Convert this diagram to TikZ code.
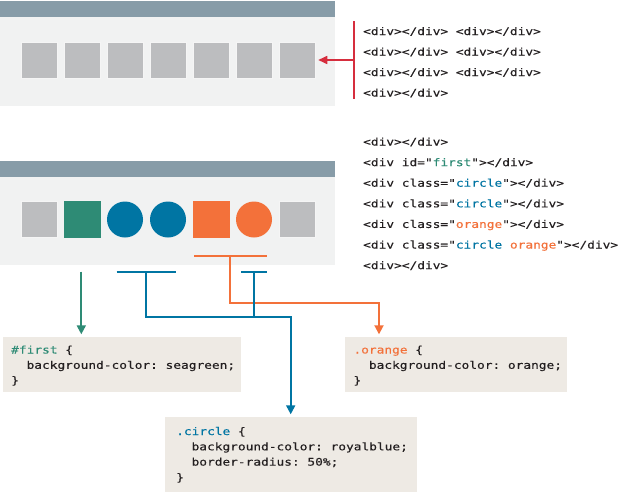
\documentclass[tikz,border=0pt]{standalone}
\usepackage{fontspec}
\usetikzlibrary{arrows.meta}
\newfontfamily\codefont[FakeStretch=1.222,FakeBold=0.3]{DejaVu Sans Mono}
\newcommand\codesize{\fontsize{10.5}{12}\selectfont\frenchspacing\fontdimen2\font=7.72pt\fontdimen3\font=0pt\fontdimen4\font=0pt\fontdimen7\font=0pt}
\definecolor{barc}{HTML}{879CA8}
\definecolor{bodyc}{HTML}{F1F2F2}
\definecolor{sqc}{HTML}{BCBDBF}
\definecolor{greenc}{HTML}{2E8B75}
\definecolor{bluec}{HTML}{0075A3}
\definecolor{orangec}{HTML}{F3713A}
\definecolor{boxc}{HTML}{EEEAE4}
\definecolor{inkc}{HTML}{231F20}
\definecolor{redc}{HTML}{D62E3E}
\begin{document}
\begin{tikzpicture}[x=1pt,y=-1pt,
  sq/.style={rectangle,minimum size=36pt,inner sep=0pt,draw=white!85!sqc,line width=0.5pt,fill=sqc},
  circ/.style={circle,minimum size=36pt,inner sep=0pt,draw=none,fill=#1},
  codeline/.style={anchor=base west,inner sep=0pt,font=\codefont\codesize,text=inkc},
  codebox/.style={rectangle,fill=boxc,draw=none,inner sep=0pt,anchor=north west},
  conn/.style={line width=1.8pt},
  tip/.style={-{Triangle[width=9pt,length=9pt]}}
]
\fill[white] (0,0) rectangle (626,491);
\useasboundingbox (0,0) rectangle (626,491);

% top browser
\fill[bodyc] (0,17) rectangle (335,106);
\fill[barc] (0,1) rectangle (335,17);
\foreach \k in {1,...,7}{
  \node[sq] (s\k) at ({39+43*(\k-1)},60) {};
}

% bottom browser
\fill[bodyc] (0,176.7) rectangle (335,265);
\fill[barc] (0,160.7) rectangle (335,176.7);
\node[sq] (t1) at (39,219.5) {};
\node[sq,fill=greenc,draw=greenc] (t2) at (82,219.5) {};
\node[circ=bluec] (t3) at (125,219.5) {};
\node[circ=bluec] (t4) at (168,219.5) {};
\node[sq,fill=orangec,draw=orangec] (t5) at (211,219.5) {};
\node[circ=orangec] (t6) at (254,219.5) {};
\node[sq] (t7) at (297,219.5) {};

% top code
\node[codeline] (a1) at (363,35) {<div></div> <div></div>};
\node[codeline] (a2) at (363,55.5) {<div></div> <div></div>};
\node[codeline] (a3) at (363,76) {<div></div> <div></div>};
\node[codeline] (a4) at (363,96.5) {<div></div>};

% red connector
\coordinate (rtop) at (354,21);
\coordinate (rbot) at (354,99);
\coordinate (rmid) at (354,60);
\draw[redc,line width=1.6pt] (rtop) -- (rbot);
\draw[redc,line width=1.6pt,-{Triangle[width=8pt,length=9pt]},shorten >=3pt] (rmid) -- (rmid -| s7.east);

% bottom code
\node[codeline] (c1) at (363,145.5) {<div></div>};
\node[codeline] (c2) at (363,166.1) {<div id="\textcolor{greenc}{first}"></div>};
\node[codeline] (c3) at (363,186.7) {<div class="\textcolor{bluec}{circle}"></div>};
\node[codeline] (c4) at (363,207.3) {<div class="\textcolor{bluec}{circle}"></div>};
\node[codeline] (c5) at (363,227.9) {<div class="\textcolor{orangec}{orange}"></div>};
\node[codeline] (c6) at (363,248.5) {<div class="\textcolor{bluec}{circle} \textcolor{orangec}{orange}"></div>};
\node[codeline] (c7) at (363,269.1) {<div></div>};

% code boxes
\node[codebox,minimum width=238pt,minimum height=55pt] (first) at (2.7,336.7) {};
\node[codebox,minimum width=221.7pt,minimum height=55pt] (orange) at (345,336.7) {};
\node[codebox,minimum width=251.7pt,minimum height=75pt] (circle) at (165,416.7) {};

\node[codeline] (f1) at (11,353.5) {\textcolor{greenc}{\#first} \{};
\node[codeline] (f2) at (26.4,368.8) {background-color: seagreen;};
\node[codeline] (f3) at (11,384) {\}};

\node[codeline] (o1t) at (353.3,353.5) {\textcolor{orangec}{.orange} \{};
\node[codeline] (o2t) at (368.7,368.8) {background-color: orange;};
\node[codeline] (o3t) at (353.3,384) {\}};

\node[codeline] (k1) at (176,435) {\textcolor{bluec}{.circle} \{};
\node[codeline] (k2) at (191.4,450.3) {background-color: royalblue;};
\node[codeline] (k3) at (191.4,465.6) {border-radius: 50\%;};
\node[codeline] (k4) at (176,481) {\}};

% green connector
\coordinate (g0) at (81.3,271.7);
\draw[greenc,conn,tip,shorten >=2.4pt] (g0) -- (g0 |- first.north);

% orange connector
\coordinate (oa) at (194,256.3);
\coordinate (ob) at (267.3,256.3);
\coordinate (om) at (230,256.3);
\coordinate (oj) at (230,303.3);
\coordinate (ok) at (379,303.3);
\draw[orangec,conn] (oa) -- (ob);
\draw[orangec,conn,tip,shorten >=2.4pt] (om) -- (oj) -- (ok) -- (ok |- orange.north);

% blue connector
\coordinate (b1a) at (116.7,271.7);
\coordinate (b1b) at (176,271.7);
\coordinate (b1m) at (146,271.7);
\coordinate (b2a) at (241,271.7);
\coordinate (b2b) at (266.7,271.7);
\coordinate (b2m) at (254,271.7);
\coordinate (bj1) at (146,316.7);
\coordinate (bj2) at (290.7,316.7);
\draw[bluec,conn] (b1a) -- (b1b);
\draw[bluec,conn] (b2a) -- (b2b);
\draw[bluec,conn] (b2m) -- (b2m |- bj1);
\draw[bluec,conn,tip,shorten >=2.4pt] (b1m) -- (bj1) -- (bj2) -- (bj2 |- circle.north);
\end{tikzpicture}
\end{document}
